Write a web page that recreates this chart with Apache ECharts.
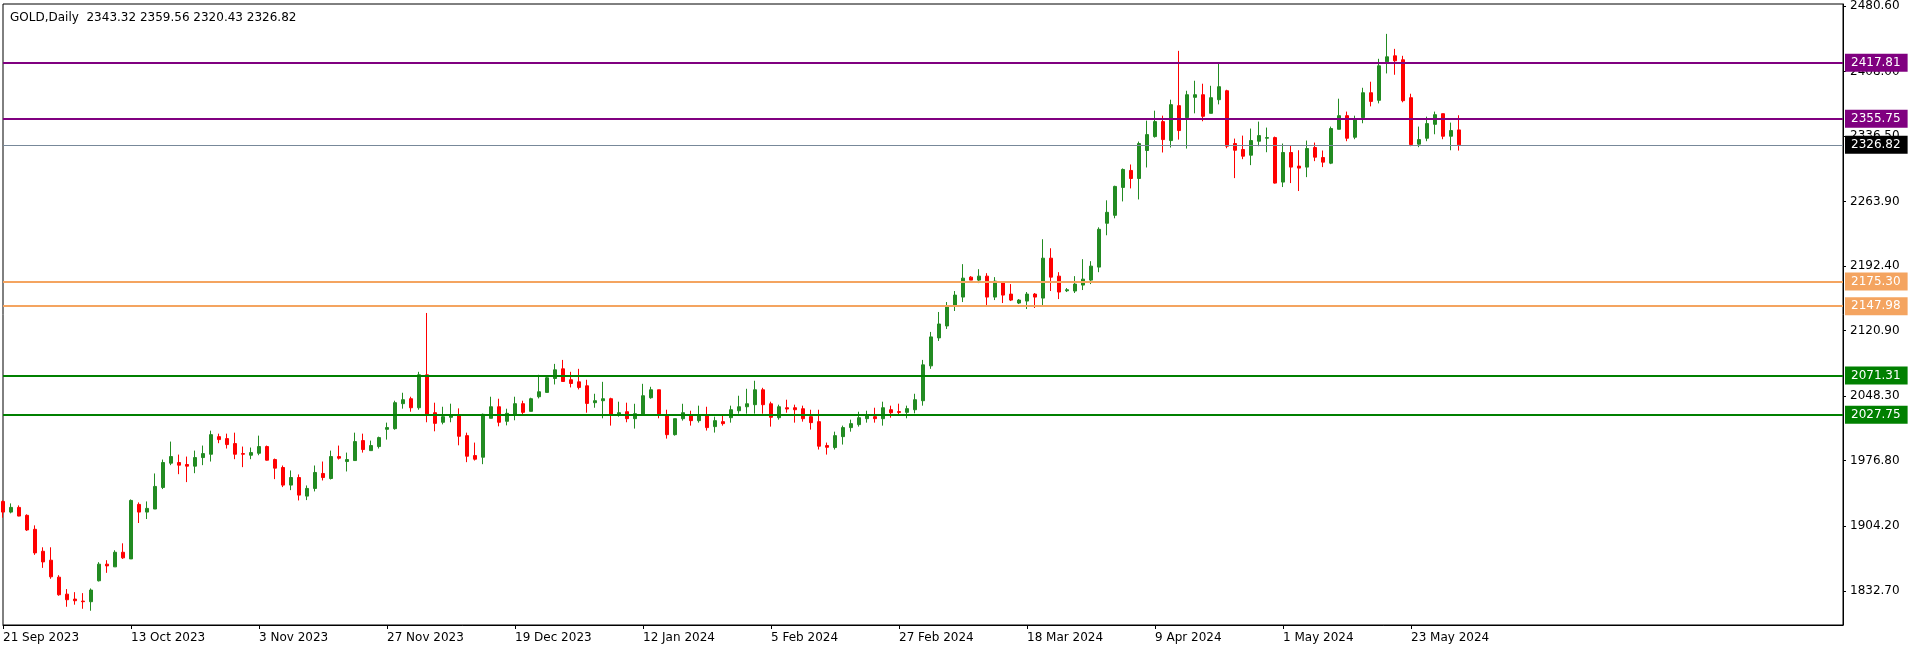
<!DOCTYPE html>
<html>
<head>
<meta charset="utf-8">
<script src="https://cdn.jsdelivr.net/npm/echarts@6/dist/echarts.min.js"></script>
<style>
html,body{margin:0;padding:0;background:#fff;}
#chart{width:1916px;height:652px;}
</style>
</head>
<body>
<div id="chart"></div>
<script>
// ---- data ----
const symbolTitle = "GOLD,Daily  2343.32 2359.56 2320.43 2326.82";
const tickLabels = ["21 Sep 2023","13 Oct 2023","3 Nov 2023","27 Nov 2023","19 Dec 2023","12 Jan 2024","5 Feb 2024","27 Feb 2024","18 Mar 2024","9 Apr 2024","1 May 2024","23 May 2024"];
const yTicks = [1832.70,1904.20,1976.80,2048.30,2120.90,2192.40,2263.90,2336.50,2408.00,2480.60];

const opens = [1931.7,1919.9,1925.1,1916.3,1900.8,1876.5,1866.6,1847.8,1829.0,1823.5,1821.3,1820.6,1843.8,1862.2,1859.2,1875.4,1868.0,1928.4,1919.9,1923.3,
1947.2,1974.1,1974.8,1972.6,1970.8,1980.3,1984.0,2003.5,2001.3,1995.8,1984.7,1982.9,1985.1,1992.5,1978.1,1969.3,1949.8,1958.2,1937.6,1946.1,
1962.7,1957.1,1981.4,1975.9,1977.0,1999.1,1988.0,1992.5,2011.6,2012.3,2040.0,2045.5,2035.5,2072.0,2030.0,2019.4,2024.9,2027.1,2004.6,1982.5,
1980.7,2023.8,2036.6,2020.5,2028.2,2040.0,2031.5,2047.7,2052.5,2067.9,2078.6,2066.5,2064.2,2059.8,2041.1,2043.3,2045.5,2027.8,2031.1,2023.4,
2028.6,2046.6,2055.4,2026.7,2005.7,2023.4,2026.7,2021.2,2027.8,2014.6,2020.1,2024.5,2032.2,2036.6,2038.9,2055.4,2039.9,2024.5,2035.5,2035.5,
2034.4,2025.6,2020.1,1993.6,1991.4,2003.5,2013.5,2016.8,2023.4,2025.6,2023.4,2033.3,2031.3,2030.4,2033.3,2043.3,2081.9,2112.9,2126.1,2148.2,
2158.1,2180.2,2176.9,2181.3,2158.1,2174.7,2161.4,2151.5,2153.7,2161.4,2157.0,2201.2,2181.3,2165.1,2164.8,2171.4,2176.9,2191.3,2239.9,2248.7,
2279.6,2298.4,2289.5,2320.5,2335.9,2352.5,2331.5,2370.2,2356.9,2379.4,2382.3,2361.7,2376.8,2386.7,2328.2,2321.6,2315.3,2330.8,2334.1,2334.8,
2285.5,2318.3,2303.2,2302.1,2323.8,2312.7,2306.5,2344.0,2359.1,2335.2,2356.9,2384.5,2376.1,2418.8,2425.4,2421.0,2379.0,2327.5,2334.1,2349.5,
2361.3,2336.3,2343.32];
const highs = [1932.8,1929.5,1927.3,1917.4,1905.2,1880.9,1880.9,1850.0,1834.6,1831.2,1830.1,1835.3,1864.4,1866.6,1877.6,1885.3,1933.9,1930.6,1931.7,1962.7,
1978.1,1998.0,1983.6,1981.4,1988.0,1993.6,2010.1,2006.8,2006.8,2007.9,1992.5,1991.4,2004.6,1993.6,1979.2,1971.5,1966.0,1961.6,1949.4,1971.5,
1975.9,1988.0,1993.6,1985.8,2007.9,2006.8,1999.1,2003.5,2019.0,2043.3,2052.1,2047.7,2075.3,2140.5,2041.1,2036.6,2040.0,2034.8,2007.9,1996.9,
2029.0,2047.7,2045.5,2034.4,2047.7,2043.3,2046.6,2072.0,2069.8,2084.1,2088.5,2075.3,2078.6,2066.5,2051.0,2064.2,2046.6,2042.2,2041.1,2039.9,
2062.0,2058.7,2055.4,2033.3,2023.4,2039.9,2032.2,2037.8,2036.6,2025.6,2026.7,2037.8,2048.8,2056.5,2065.4,2057.6,2042.2,2038.9,2044.4,2038.9,
2037.8,2033.3,2033.3,1996.9,2009.0,2015.7,2022.3,2031.1,2032.2,2035.5,2042.2,2037.8,2040.0,2037.8,2051.0,2088.5,2119.5,2141.6,2152.6,2164.8,
2194.6,2181.3,2189.0,2184.6,2180.2,2175.8,2172.5,2155.9,2163.7,2162.6,2222.2,2212.2,2185.7,2168.1,2181.3,2200.1,2197.9,2235.4,2265.3,2281.5,
2300.6,2305.0,2330.4,2353.6,2364.6,2359.1,2376.8,2430.9,2386.7,2397.8,2394.5,2392.2,2417.6,2387.8,2333.7,2337.0,2344.8,2352.5,2345.9,2335.9,
2328.2,2326.0,2320.8,2331.5,2329.3,2320.5,2347.0,2377.9,2363.6,2359.1,2390.0,2396.7,2422.1,2449.7,2433.1,2425.4,2383.4,2347.0,2358.0,2363.6,
2361.3,2351.4,2359.56];
const lows = [1913.7,1918.5,1915.2,1899.0,1872.5,1858.1,1846.0,1827.2,1815.0,1817.3,1812.8,1810.6,1843.0,1852.6,1859.2,1868.0,1868.0,1907.8,1912.2,1923.3,
1945.4,1971.9,1961.9,1953.1,1963.0,1971.9,1975.9,1996.2,1990.3,1978.5,1969.7,1978.5,1982.9,1977.0,1956.4,1947.6,1944.2,1932.8,1933.2,1942.8,
1954.9,1956.0,1978.1,1964.9,1977.0,1985.8,1988.0,1990.3,2000.2,2011.2,2034.5,2031.1,2033.3,2019.4,2009.4,2017.1,2019.4,1993.9,1975.2,1977.0,
1973.0,2023.8,2014.9,2016.0,2021.6,2028.6,2031.5,2045.8,2052.5,2061.3,2064.6,2058.0,2055.8,2030.0,2035.5,2023.8,2015.7,2025.6,2019.4,2012.4,
2028.6,2045.5,2023.8,2001.3,2004.6,2021.2,2015.7,2019.0,2010.2,2008.0,2015.7,2019.0,2028.9,2028.9,2028.9,2028.9,2014.6,2022.3,2030.0,2019.0,
2020.1,2011.3,1989.2,1983.6,1989.2,1994.7,2009.0,2014.6,2019.0,2019.0,2015.7,2024.5,2027.8,2023.8,2029.3,2037.8,2078.6,2109.5,2122.8,2142.7,
2152.6,2176.9,2173.6,2149.3,2154.8,2151.5,2153.7,2150.4,2144.9,2146.0,2149.3,2164.8,2155.9,2163.7,2162.6,2165.9,2172.5,2185.7,2226.6,2245.4,
2264.1,2278.5,2266.3,2301.7,2334.8,2318.3,2323.8,2332.6,2322.7,2361.7,2352.9,2361.7,2371.6,2323.0,2289.9,2310.9,2304.3,2325.3,2318.6,2283.9,
2280.0,2284.4,2275.6,2291.0,2308.7,2302.1,2305.4,2344.0,2330.8,2333.0,2350.7,2369.4,2372.7,2405.9,2404.4,2373.9,2325.3,2324.2,2330.8,2338.5,
2333.0,2320.8,2320.43];
const closes = [1919.9,1925.1,1915.5,1900.1,1874.7,1864.7,1848.2,1828.3,1822.8,1821.7,1820.6,1833.5,1862.2,1860.3,1875.4,1869.2,1932.8,1919.9,1924.0,1948.3,
1974.8,1981.4,1971.9,1970.8,1980.3,1984.7,2005.7,2000.2,1994.7,1984.0,1984.0,1985.8,1992.5,1977.4,1968.6,1949.8,1958.2,1938.7,1946.1,1963.8,
1958.2,1981.4,1979.6,1978.1,1998.0,1989.2,1993.6,2002.4,2013.5,2041.1,2044.4,2035.5,2072.0,2028.2,2018.2,2025.6,2027.1,2003.9,1981.8,1978.5,
2028.2,2036.6,2019.4,2029.3,2040.0,2030.4,2045.5,2053.2,2068.7,2077.5,2064.6,2062.4,2058.0,2040.3,2043.3,2045.5,2028.6,2030.0,2023.4,2028.9,
2048.8,2055.4,2028.6,2005.7,2023.4,2030.0,2021.2,2027.8,2013.5,2021.2,2017.9,2033.3,2036.6,2039.9,2055.4,2038.9,2024.9,2036.6,2034.1,2033.3,
2023.4,2019.0,1992.9,1991.7,2004.6,2013.5,2017.9,2024.5,2026.7,2023.4,2035.5,2030.0,2030.2,2034.5,2044.4,2083.0,2114.0,2128.3,2147.1,2160.3,
2179.1,2176.9,2181.3,2158.1,2175.8,2160.3,2154.8,2154.8,2161.4,2158.1,2201.2,2180.2,2163.7,2166.2,2172.5,2178.0,2192.4,2233.2,2252.0,2280.7,
2299.5,2289.5,2328.2,2338.1,2352.5,2332.6,2371.3,2342.6,2382.3,2382.3,2358.4,2379.0,2391.2,2325.3,2320.8,2314.2,2331.5,2337.0,2334.8,2284.4,
2318.3,2302.1,2301.0,2322.7,2313.1,2307.6,2344.8,2359.1,2334.1,2355.8,2384.5,2374.9,2414.3,2424.3,2419.9,2375.7,2327.1,2332.6,2350.3,2360.2,
2336.3,2342.6,2326.82];

// horizontal levels drawn on the chart
const levelValues = [2417.81, 2355.75, 2326.82, 2175.30, 2147.98, 2071.31, 2027.75];
const levelColors = ["#800080", "#800080", "#000000", "#F4A460", "#F4A460", "#008000", "#008000"];
const levelLineColors = ["#800080", "#800080", "#778899", "#F4A460", "#F4A460", "#008000", "#008000"];
const levelWidths = [2, 2, 1, 2, 2, 2, 2];

// ---- chart ----
const BAR_STEP = 16;     // a date label every 16 bars
const SLOTS = 231;       // bar slots across the plot width
const categories = [];
for (let i = 0; i < SLOTS; i++) categories.push(String(i));

const candleData = opens.map((o, i) => [o, closes[i], lows[i], highs[i]]);
const hasLabel = idx => idx % BAR_STEP === 0 && (idx / BAR_STEP) < tickLabels.length;

const FONT = "DejaVu Sans";
const chart = echarts.init(document.getElementById('chart'), null, {renderer: 'canvas'});

const markLineData = levelValues.map((v, i) => ({
  yAxis: v,
  lineStyle: {color: levelLineColors[i], width: levelWidths[i], type: 'solid'},
  label: {
    show: true, position: 'end', distance: 2,
    formatter: () => v.toFixed(2),
    color: '#ffffff', backgroundColor: levelColors[i],
    fontFamily: FONT, fontSize: 12, lineHeight: 13,
    padding: [3, 7, 2, 6]
  }
}));

chart.setOption({
  animation: false,
  backgroundColor: '#ffffff',
  textStyle: {fontFamily: FONT},
  title: {
    text: symbolTitle, left: 5, top: 7,
    textStyle: {fontFamily: FONT, fontSize: 12, fontWeight: 'normal', color: '#000'}
  },
  grid: {
    left: 3, top: 2, width: 8 * (SLOTS - 1), height: 623,
    show: true, borderColor: '#000', borderWidth: 1, backgroundColor: 'transparent'
  },
  xAxis: {
    type: 'category', data: categories, boundaryGap: false,
    axisLine: {show: true, lineStyle: {color: '#000', width: 1}},
    axisTick: {show: true, interval: (idx) => hasLabel(idx), length: 4, lineStyle: {color: '#000'}},
    axisLabel: {
      show: true, interval: (idx) => hasLabel(idx), align: 'left', margin: 7,
      color: '#000', fontFamily: FONT, fontSize: 12,
      formatter: (val, idx) => hasLabel(idx) ? tickLabels[idx / BAR_STEP] : ''
    },
    splitLine: {show: false}
  },
  yAxis: {
    type: 'value', position: 'right', min: 1794.8, max: 2482.81, scale: true,
    axisLine: {show: true, lineStyle: {color: '#000', width: 1}},
    axisTick: {show: true, length: 3, customValues: yTicks, lineStyle: {color: '#000'}},
    axisLabel: {
      show: true, customValues: yTicks, margin: 7, color: '#000',
      fontFamily: FONT, fontSize: 12,
      formatter: v => v.toFixed(2)
    },
    splitLine: {show: false}
  },
  series: [{
    type: 'candlestick',
    data: candleData,
    barWidth: 4,
    clip: true,
    itemStyle: {
      color: '#228B22', color0: '#FF0000',
      borderColor: '#228B22', borderColor0: '#FF0000', borderWidth: 1
    },
    markLine: {
      silent: true, symbol: ['none', 'none'], animation: false,
      data: markLineData
    }
  }]
});
</script>
</body>
</html>
